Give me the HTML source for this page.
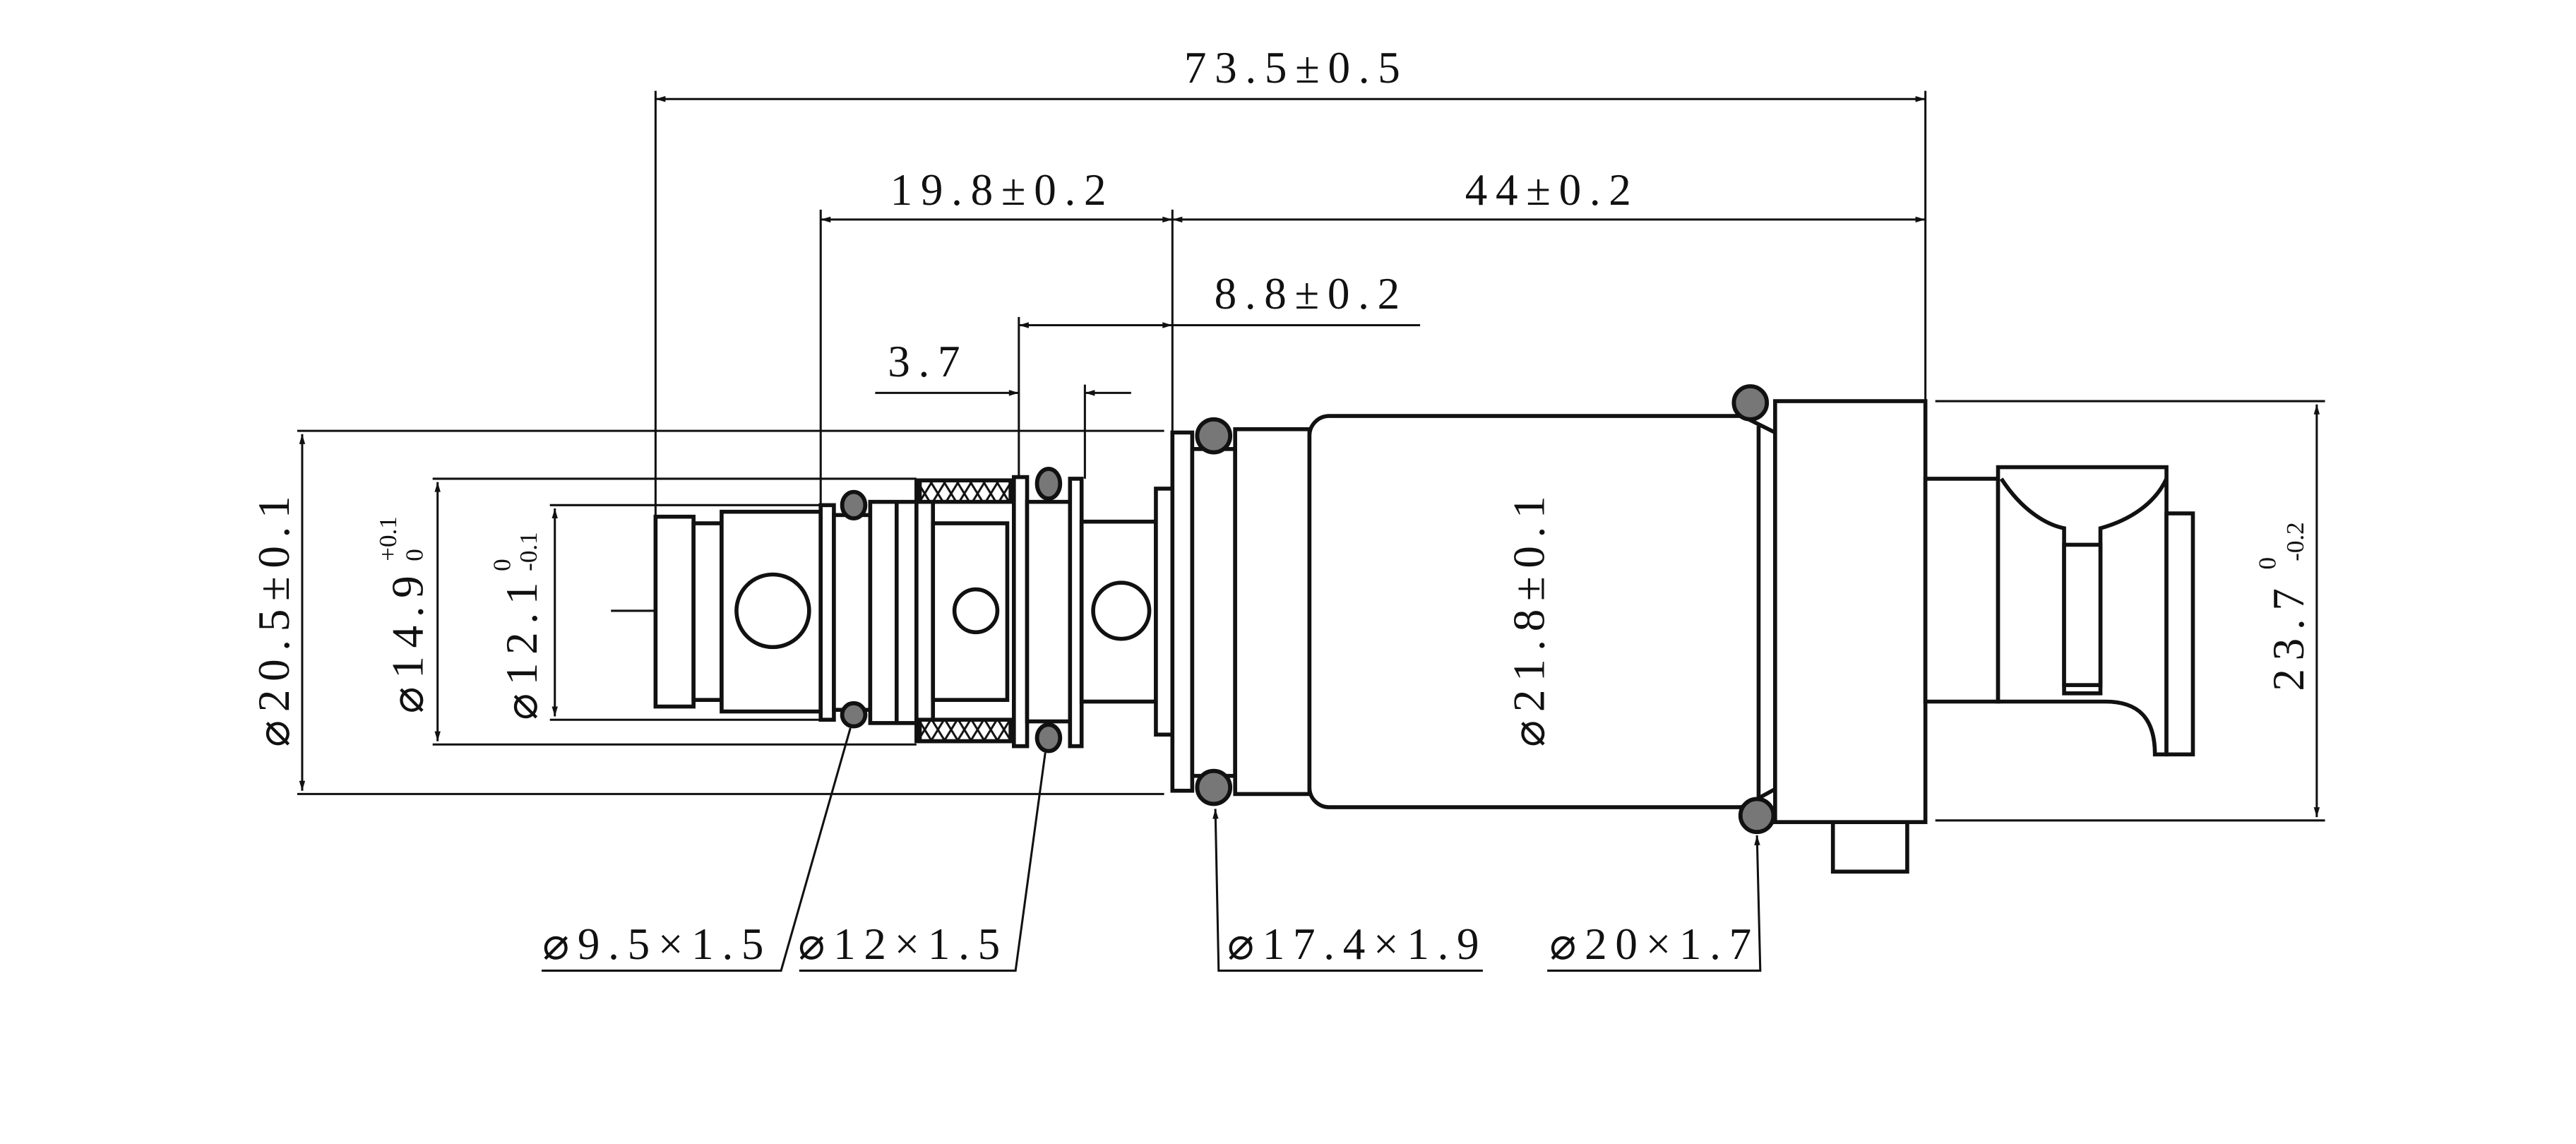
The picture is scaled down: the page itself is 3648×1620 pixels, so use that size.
<!DOCTYPE html>
<html><head><meta charset="utf-8"><style>
html,body{margin:0;padding:0;background:#fff;}
svg{display:block;}
text{font-family:"Liberation Serif","Noto Serif CJK SC",serif;fill:#111;}
</style></head><body>
<svg width="3648" height="1620" viewBox="0 0 1560 693" preserveAspectRatio="none" xmlns="http://www.w3.org/2000/svg">
<defs>
<marker id="a" viewBox="0 0 10 10" refX="10" refY="5" markerWidth="10" markerHeight="6" orient="auto-start-reverse" markerUnits="userSpaceOnUse"><path d="M0,2 L10,5 L0,8z" fill="#111"/></marker>
<pattern id="h" width="8" height="13" patternUnits="userSpaceOnUse"><path d="M0,0 L8,13 M8,0 L0,13" stroke="#111" stroke-width="1.3"/></pattern>
</defs>
<g stroke="#111" fill="none" stroke-width="1.3">
<line x1="397" y1="55" x2="397" y2="313"/>
<line x1="1166" y1="55" x2="1166" y2="243"/>
<line x1="497" y1="127" x2="497" y2="306"/>
<line x1="710" y1="127" x2="710" y2="262"/>
<line x1="617" y1="192" x2="617" y2="289"/>
<line x1="657" y1="233" x2="657" y2="290"/>
<line x1="180" y1="261" x2="705" y2="261"/>
<line x1="180" y1="481" x2="705" y2="481"/>
<line x1="262" y1="290" x2="555" y2="290"/>
<line x1="262" y1="451" x2="555" y2="451"/>
<line x1="333" y1="306" x2="497" y2="306"/>
<line x1="333" y1="436" x2="497" y2="436"/>
<line x1="1172" y1="243" x2="1408" y2="243"/>
<line x1="1172" y1="497" x2="1408" y2="497"/>
<line x1="397" y1="60" x2="1166" y2="60" marker-start="url(#a)" marker-end="url(#a)"/>
<line x1="497" y1="133" x2="710" y2="133" marker-start="url(#a)" marker-end="url(#a)"/>
<line x1="710" y1="133" x2="1166" y2="133" marker-start="url(#a)" marker-end="url(#a)"/>
<line x1="617" y1="197" x2="710" y2="197" marker-start="url(#a)" marker-end="url(#a)"/>
<line x1="710" y1="197" x2="860" y2="197"/>
<line x1="530" y1="238" x2="617" y2="238" marker-end="url(#a)"/>
<line x1="685" y1="238" x2="657" y2="238" marker-end="url(#a)"/>
<line x1="183" y1="263" x2="183" y2="479" marker-start="url(#a)" marker-end="url(#a)"/>
<line x1="265" y1="292" x2="265" y2="449" marker-start="url(#a)" marker-end="url(#a)"/>
<line x1="336" y1="308" x2="336" y2="434" marker-start="url(#a)" marker-end="url(#a)"/>
<line x1="953" y1="254" x2="953" y2="487" marker-start="url(#a)" marker-end="url(#a)"/>
<line x1="1403" y1="245" x2="1403" y2="495" marker-start="url(#a)" marker-end="url(#a)"/>
<path d="M370,370 H905 M965,370 H1115 M1148,370 H1185 M1200,370 H1310"/>
</g>
<g stroke="#111" fill="#fff" stroke-width="2.4">
<rect x="397" y="313" width="23" height="115"/>
<rect x="420" y="317" width="17" height="107"/>
<rect x="437" y="310" width="60" height="121"/>
<circle cx="468" cy="370" r="22"/>
<rect x="497" y="306" width="8" height="130"/>
<rect x="505" y="312" width="22" height="118"/>
<rect x="527" y="304" width="28" height="134"/>
<line x1="543" y1="304" x2="543" y2="438"/>
<rect x="555" y="291" width="59" height="158"/>
<rect x="557" y="291" width="55" height="13" fill="url(#h)"/>
<rect x="557" y="436" width="55" height="13" fill="url(#h)"/>
<rect x="565" y="317" width="45" height="107"/>
<line x1="565" y1="304" x2="565" y2="436"/>
<circle cx="591" cy="370" r="13"/>
<rect x="614" y="289" width="8" height="163"/>
<rect x="622" y="304" width="26" height="133"/>
<rect x="648" y="290" width="7" height="162"/>
<rect x="655" y="316" width="45" height="109"/>
<circle cx="679" cy="370" r="17"/>
<rect x="700" y="296" width="10" height="149"/>
<rect x="710" y="262" width="12" height="217"/>
<rect x="722" y="272" width="26" height="198"/>
<rect x="748" y="260" width="45" height="221"/>
<rect x="793" y="252" width="272" height="237" rx="12"/>
<path d="M1055,252 L1075,262 L1075,478 L1055,489"/>
<line x1="1065" y1="258" x2="1065" y2="484"/>
<rect x="1110" y="498" width="45" height="30"/>
<rect x="1075" y="243" width="91" height="255"/>
<path d="M1166,290 H1210 V425 H1166 Z"/>
<path d="M1210,283 H1312 V457 H1305 C1305,435 1295,425 1275,425 H1210 Z"/>
<path d="M1212,290 C1225,310 1240,318 1250,320 V420 H1272 V320 C1290,315 1305,305 1312,290"/>
<rect x="1250" y="330" width="22" height="85"/>
<rect x="1312" y="311" width="16" height="146"/>
</g>
<g stroke="#111" stroke-width="2.5" fill="#777">
<ellipse cx="517" cy="306" rx="7" ry="8"/><ellipse cx="517" cy="433" rx="7" ry="7"/>
<ellipse cx="635" cy="293" rx="7" ry="9"/><ellipse cx="635" cy="447" rx="7" ry="8"/>
<ellipse cx="735" cy="264" rx="10" ry="10"/><ellipse cx="735" cy="477" rx="10" ry="10"/>
<ellipse cx="1060" cy="244" rx="10" ry="10"/><ellipse cx="1064" cy="494" rx="10" ry="10"/>
</g>
<g stroke="#111" fill="none" stroke-width="1.3">
<path d="M328,588 H473 L515,441"/>
<path d="M484,588 H615 L633,456"/>
<path d="M898,588 H738 L736,490" marker-end="url(#a)"/>
<path d="M937,588 H1066 L1064,506" marker-end="url(#a)"/>
</g>
<g font-size="27" text-anchor="middle" letter-spacing="5">
<text x="785" y="50">73.5±0.5</text>
<text x="607" y="124">19.8±0.2</text>
<text x="940" y="124">44±0.2</text>
<text x="794" y="187">8.8±0.2</text>
<text x="562" y="228">3.7</text>
<text x="398" y="581">⌀9.5×1.5</text>
<text x="547" y="581">⌀12×1.5</text>
<text x="822" y="581">⌀17.4×1.9</text>
<text x="1002" y="581">⌀20×1.7</text>
<text transform="translate(175,374) rotate(-90)">⌀20.5±0.1</text>
<text transform="translate(935,374) rotate(-90)">⌀21.8±0.1</text>
<text transform="translate(256,388) rotate(-90)">⌀14.9</text>
<text transform="translate(325,392) rotate(-90)">⌀12.1</text>
<text transform="translate(1395,385) rotate(-90)">23.7</text>
</g>
<g font-size="15" text-anchor="start">
<text transform="translate(256,340) rotate(-90)">0</text>
<text transform="translate(240,340) rotate(-90)">+0.1</text>
<text transform="translate(325,346) rotate(-90)">-0.1</text>
<text transform="translate(309,346) rotate(-90)">0</text>
<text transform="translate(1395,340) rotate(-90)">-0.2</text>
<text transform="translate(1378,345) rotate(-90)">0</text>
</g>
</svg>
</body></html>
